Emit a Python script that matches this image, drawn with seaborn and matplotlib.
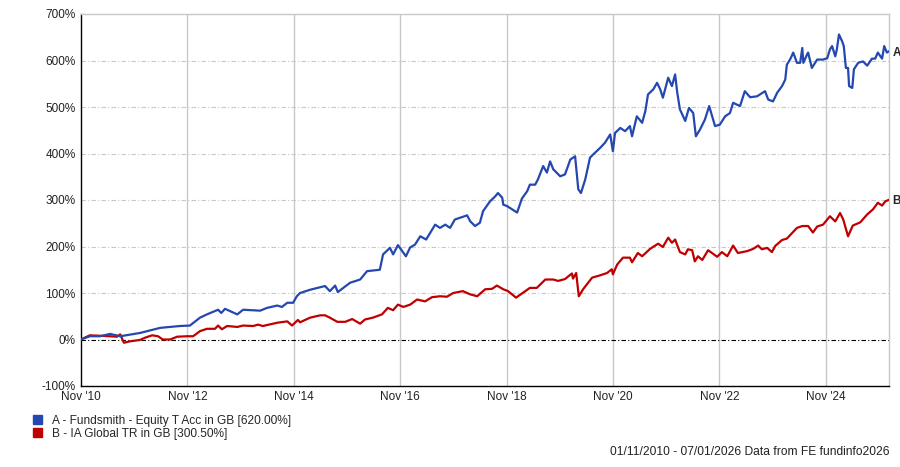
import matplotlib
matplotlib.use("Agg")
import matplotlib.pyplot as plt
import seaborn as sns
import pandas as pd
from matplotlib.patches import Patch

# ---- data (decimal year, cumulative % return) ----
fund_t = [2010.83, 2011.00, 2011.19, 2011.38, 2011.57, 2011.94, 2012.32, 2012.69, 2012.88, 2013.07,
          2013.20, 2013.41, 2013.47, 2013.54, 2013.77, 2013.88, 2014.20, 2014.33, 2014.52, 2014.61,
          2014.71, 2014.82, 2014.89, 2014.95, 2015.14, 2015.42, 2015.51, 2015.61, 2015.66, 2015.89,
          2016.08, 2016.21, 2016.45, 2016.51, 2016.64, 2016.70, 2016.79, 2016.94, 2017.02, 2017.11,
          2017.21, 2017.32, 2017.49, 2017.58, 2017.68, 2017.77, 2017.86, 2018.09, 2018.15, 2018.24,
          2018.33, 2018.39, 2018.52, 2018.62, 2018.67, 2018.75, 2018.77, 2018.84, 2019.03, 2019.12,
          2019.22, 2019.27, 2019.37, 2019.42, 2019.52, 2019.59, 2019.65, 2019.71, 2019.84, 2019.93,
          2020.03, 2020.12, 2020.18, 2020.23, 2020.31, 2020.40, 2020.46, 2020.59, 2020.68, 2020.78,
          2020.83, 2020.87, 2020.97, 2021.06, 2021.15, 2021.19, 2021.28, 2021.38, 2021.44, 2021.49,
          2021.59, 2021.66, 2021.72, 2021.77, 2021.87, 2021.94, 2022.00, 2022.04, 2022.09, 2022.19,
          2022.26, 2022.34, 2022.39, 2022.47, 2022.56, 2022.64, 2022.75, 2022.84, 2022.94, 2023.03,
          2023.09, 2023.22, 2023.31, 2023.41, 2023.54, 2023.69, 2023.75, 2023.84, 2023.92, 2024.01,
          2024.07, 2024.10, 2024.16, 2024.22, 2024.29, 2024.35, 2024.39, 2024.41, 2024.48, 2024.50,
          2024.57, 2024.67, 2024.78, 2024.86, 2024.91, 2024.95, 2025.01, 2025.04, 2025.08, 2025.14,
          2025.17, 2025.21, 2025.25, 2025.27, 2025.33, 2025.36, 2025.44, 2025.53, 2025.61, 2025.70,
          2025.76, 2025.81, 2025.89, 2025.93, 2025.98, 2026.02]
fund_v = [0, 7, 7, 12, 7, 14, 25, 29, 30, 47,
          54, 64, 57, 66, 54, 64, 62, 68, 73, 70,
          79, 79, 93, 100, 107, 115, 104, 116, 102, 122,
          129, 147, 150, 183, 197, 183, 203, 179, 198, 204,
          222, 215, 247, 240, 247, 240, 258, 267, 254, 244,
          251, 276, 297, 308, 315, 305, 290, 287, 273, 303,
          319, 333, 333, 344, 373, 359, 383, 366, 351, 355,
          387, 394, 323, 315, 344, 391, 398, 412, 423, 441,
          405, 444, 455, 448, 459, 437, 480, 466, 491, 527,
          538, 552, 538, 520, 563, 545, 570, 531, 495, 470,
          498, 487, 437, 452, 473, 502, 459, 462, 480, 487,
          509, 502, 534, 521, 523, 534, 516, 512, 531, 545,
          559, 591, 602, 617, 595, 595, 627, 595, 613, 617,
          584, 602, 602, 605, 624, 631, 609, 624, 656, 641,
          631, 584, 584, 545, 541, 581, 595, 598, 589, 604,
          604, 617, 604, 631, 617, 620]

sector_t = [2010.83, 2011.00, 2011.38, 2011.51, 2011.57, 2011.64, 2011.75, 2011.94, 2012.04, 2012.17,
            2012.28, 2012.37, 2012.51, 2012.64, 2012.83, 2012.94, 2013.07, 2013.20, 2013.35, 2013.41,
            2013.48, 2013.58, 2013.77, 2013.88, 2014.07, 2014.16, 2014.25, 2014.52, 2014.71, 2014.80,
            2014.91, 2014.95, 2015.14, 2015.33, 2015.42, 2015.51, 2015.65, 2015.80, 2015.93, 2016.08,
            2016.17, 2016.32, 2016.49, 2016.60, 2016.70, 2016.79, 2016.89, 2017.02, 2017.15, 2017.30,
            2017.43, 2017.58, 2017.71, 2017.83, 2018.01, 2018.15, 2018.28, 2018.43, 2018.56, 2018.65,
            2018.77, 2018.86, 2019.01, 2019.12, 2019.27, 2019.40, 2019.56, 2019.71, 2019.80, 2019.93,
            2020.06, 2020.08, 2020.14, 2020.19, 2020.27, 2020.44, 2020.59, 2020.72, 2020.81, 2020.83,
            2020.91, 2021.02, 2021.15, 2021.19, 2021.30, 2021.38, 2021.53, 2021.68, 2021.77, 2021.87,
            2021.94, 2022.00, 2022.09, 2022.19, 2022.24, 2022.32, 2022.37, 2022.43, 2022.51, 2022.62,
            2022.79, 2022.88, 2022.98, 2023.09, 2023.18, 2023.35, 2023.47, 2023.56, 2023.63, 2023.73,
            2023.82, 2023.88, 2024.01, 2024.10, 2024.20, 2024.29, 2024.39, 2024.50, 2024.59, 2024.67,
            2024.78, 2024.91, 2025.01, 2025.10, 2025.16, 2025.25, 2025.34, 2025.48, 2025.61, 2025.72,
            2025.81, 2025.89, 2025.95, 2026.02]
sector_v = [0, 9, 7, 6, 11, -7, -4, -1, 4, 9,
            7, 0, 0, 6, 7, 7, 18, 23, 23, 30,
            22, 29, 27, 30, 29, 32, 29, 36, 39, 30,
            42, 37, 47, 52, 52, 47, 38, 38, 44, 34,
            43, 47, 54, 68, 63, 75, 70, 75, 86, 82,
            91, 93, 92, 100, 104, 97, 93, 108, 109, 116,
            108, 104, 90, 99, 111, 111, 129, 129, 126, 130,
            142, 131, 143, 93, 108, 133, 138, 143, 151, 140,
            161, 176, 176, 166, 186, 179, 195, 206, 199, 219,
            208, 215, 188, 183, 194, 192, 168, 179, 171, 192,
            178, 188, 179, 202, 186, 190, 195, 202, 194, 197,
            188, 201, 214, 217, 229, 240, 244, 244, 230, 243,
            247, 265, 254, 272, 258, 222, 245, 252, 269, 280,
            294, 288, 297, 300.5]

tick_years = [2010.833, 2012.833, 2014.833, 2016.833, 2018.833, 2020.833, 2022.833, 2024.833]
tick_labels = ["Nov '10", "Nov '12", "Nov '14", "Nov '16", "Nov '18", "Nov '20", "Nov '22", "Nov '24"]
y_ticks = [-100, 0, 100, 200, 300, 400, 500, 600, 700]

series_names = ["A - Fundsmith - Equity T Acc in GB [620.00%]", "B - IA Global TR in GB [300.50%]"]
colors = ["#2447b0", "#c00000"]

sns.set_theme(style="white")
plt.rcParams['font.family'] = ['Liberation Sans', 'DejaVu Sans']

fig = plt.figure(figsize=(9, 4.67), dpi=100)
ax = fig.add_axes([81/900, 1-386/467, (889-81)/900, (386-14)/467])

df_a = pd.DataFrame({"t": fund_t, "v": fund_v})
df_b = pd.DataFrame({"t": sector_t, "v": sector_v})
sns.lineplot(data=df_b, x="t", y="v", ax=ax, color=colors[1], linewidth=1.6, zorder=3)
sns.lineplot(data=df_a, x="t", y="v", ax=ax, color=colors[0], linewidth=1.6, zorder=4)

ax.set_xlim(2010.833, 2026.02)
ax.set_ylim(-100, 700)
ax.set_xticks(tick_years)
ax.set_xticklabels(tick_labels)
ax.set_yticks(y_ticks)
ax.set_yticklabels([f"{v}%" for v in y_ticks])
ax.set_xlabel("")
ax.set_ylabel("")

for y in y_ticks[2:-1]:
    ax.axhline(y, color="#c8c8c8", linewidth=0.8, linestyle=(0, (4, 2, 1, 2)), zorder=1)
for x in tick_years[1:]:
    ax.axvline(x, color="#c8c8c8", linewidth=1.0, zorder=1)
ax.axhline(0, color="black", linewidth=0.8, linestyle=(0, (4, 2, 1, 2)), zorder=2)

for s in ["top", "right"]:
    ax.spines[s].set_color("#c8c8c8")
    ax.spines[s].set_linewidth(1.0)
for s in ["left", "bottom"]:
    ax.spines[s].set_color("black")
    ax.spines[s].set_linewidth(1.0)

ax.tick_params(axis="x", length=3, width=0.8, color="black", pad=0.5, labelsize=8.5, labelcolor="#222222")
ax.tick_params(axis="y", length=0, pad=4, labelsize=8.5, labelcolor="#222222")

ax.text(1.004, (620 + 100) / 800, "A", transform=ax.transAxes, fontsize=8.5, fontweight="bold",
        va="center_baseline", ha="left")
ax.text(1.004, (300.5 + 100) / 800, "B", transform=ax.transAxes, fontsize=8.5, fontweight="bold",
        va="center_baseline", ha="left")

handles = [Patch(facecolor=c, edgecolor=c) for c in colors]
fig.legend(handles, series_names, loc="upper left", bbox_to_anchor=(33/900, 1-415/467),
           frameon=False, fontsize=8.6, handlelength=0.75, handleheight=0.75, handletextpad=0.8,
           labelspacing=0.05, borderpad=0, borderaxespad=0)

fig.text(890/900, 1-452/467, "01/11/2010 - 07/01/2026 Data from FE fundinfo2026", ha="right",
         va="center", fontsize=8.65, color="#222222")

fig.savefig("out.png", dpi=100)
